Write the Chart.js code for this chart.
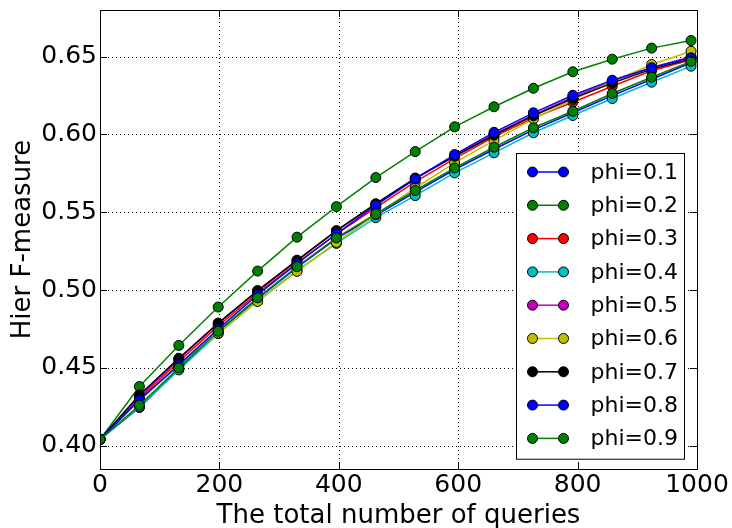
<!DOCTYPE html>
<html><head><meta charset="utf-8">
<script src="https://cdn.jsdelivr.net/npm/chart.js@4/dist/chart.umd.min.js"></script>
<style>html,body{margin:0;padding:0;background:#fff;}</style>
</head><body>
<canvas id="c" width="732" height="528"></canvas>
<script>
// ---- data ----
const xValues = [0, 66, 132, 198, 264, 330, 396, 462, 528, 594, 660, 726, 792, 858, 924, 990];
const phiLabels = ['phi=0.1','phi=0.2','phi=0.3','phi=0.4','phi=0.5','phi=0.6','phi=0.7','phi=0.8','phi=0.9'];
const phi01 = [0.404, 0.4245, 0.4490, 0.4730, 0.4945, 0.5145, 0.5330, 0.5480, 0.5630, 0.5775, 0.5905, 0.6030, 0.6140, 0.6250, 0.6355, 0.6461];
const phi02 = [0.404, 0.4380, 0.4644, 0.4891, 0.5122, 0.5340, 0.5536, 0.5723, 0.5890, 0.6049, 0.6178, 0.6297, 0.6403, 0.6484, 0.6555, 0.6604];
const phi03 = [0.404, 0.4305, 0.4540, 0.4770, 0.4980, 0.5175, 0.5360, 0.5530, 0.5695, 0.5845, 0.5985, 0.6107, 0.6207, 0.6310, 0.6410, 0.6480];
const phi04 = [0.404, 0.4250, 0.4487, 0.4720, 0.4930, 0.5125, 0.5300, 0.5465, 0.5607, 0.5753, 0.5882, 0.6011, 0.6122, 0.6231, 0.6336, 0.6439];
const phi05 = [0.404, 0.4315, 0.4555, 0.4785, 0.4995, 0.5192, 0.5380, 0.5550, 0.5715, 0.5862, 0.6002, 0.6125, 0.6240, 0.6340, 0.6430, 0.6500];
const phi06 = [0.404, 0.4290, 0.4515, 0.4723, 0.4927, 0.5120, 0.5306, 0.5484, 0.5656, 0.5817, 0.5961, 0.6100, 0.6225, 0.6340, 0.6450, 0.6535];
const phi07 = [0.404, 0.4326, 0.4562, 0.4788, 0.4996, 0.5189, 0.5382, 0.5555, 0.5720, 0.5860, 0.5995, 0.6120, 0.6232, 0.6330, 0.6420, 0.6485];
const phi08 = [0.404, 0.4294, 0.4519, 0.4749, 0.4970, 0.5169, 0.5362, 0.5544, 0.5714, 0.5871, 0.6014, 0.6139, 0.6252, 0.6349, 0.6429, 0.6493];
const phi09 = [0.404, 0.4260, 0.4500, 0.4735, 0.4950, 0.5150, 0.5335, 0.5490, 0.5640, 0.5785, 0.5918, 0.6043, 0.6149, 0.6263, 0.6368, 0.6470];
const xTicks = [0, 200, 400, 600, 800, 1000];
const yTicks = [0.40, 0.45, 0.50, 0.55, 0.60, 0.65];
// ---- style ----
const seriesColors = ['#0000ff','#008000','#ff0000','#00bfbf','#bf00bf','#bfbf00','#000000','#0000ff','#008000'];
const FONT = 'DejaVu Sans';
const allSeries = [phi01, phi02, phi03, phi04, phi05, phi06, phi07, phi08, phi09];

const datasets = allSeries.map((vals, i) => ({
  label: phiLabels[i],
  data: xValues.map((x, j) => ({x: x, y: vals[j]})),
  borderColor: seriesColors[i],
  backgroundColor: seriesColors[i],
  pointBackgroundColor: seriesColors[i],
  pointBorderColor: '#000',
  pointBorderWidth: 1,
  pointRadius: 5,
  pointHoverRadius: 5,
  borderWidth: 1.5,
  tension: 0,
  fill: false,
  order: allSeries.length - i
}));

const framePlugin = {
  id: 'frame',
  beforeDatasetsDraw(chart) {
    const {ctx, chartArea: a, scales} = chart;
    ctx.save();
    ctx.strokeStyle = '#000';
    ctx.lineWidth = 1;
    ctx.setLineDash([1, 3]);
    xTicks.forEach(v => {
      const px = Math.round(scales.x.getPixelForValue(v)) + 0.5;
      ctx.beginPath(); ctx.moveTo(px, a.top); ctx.lineTo(px, a.bottom); ctx.stroke();
    });
    yTicks.forEach(v => {
      const py = Math.round(scales.y.getPixelForValue(v)) + 0.5;
      ctx.beginPath(); ctx.moveTo(a.left, py); ctx.lineTo(a.right, py); ctx.stroke();
    });
    ctx.restore();
  },
  afterDatasetsDraw(chart) {
    const {ctx, chartArea: a, scales} = chart;
    ctx.save();
    ctx.strokeStyle = '#000';
    ctx.lineWidth = 1;
    ctx.setLineDash([]);
    const tl = 7;
    xTicks.forEach(v => {
      const px = Math.round(scales.x.getPixelForValue(v)) + 0.5;
      ctx.beginPath(); ctx.moveTo(px, a.bottom); ctx.lineTo(px, a.bottom - tl); ctx.stroke();
      ctx.beginPath(); ctx.moveTo(px, a.top); ctx.lineTo(px, a.top + tl); ctx.stroke();
    });
    yTicks.forEach(v => {
      const py = Math.round(scales.y.getPixelForValue(v)) + 0.5;
      ctx.beginPath(); ctx.moveTo(a.left, py); ctx.lineTo(a.left + tl, py); ctx.stroke();
      ctx.beginPath(); ctx.moveTo(a.right, py); ctx.lineTo(a.right - tl, py); ctx.stroke();
    });
    ctx.strokeRect(Math.round(a.left) + 0.5, Math.round(a.top) + 0.5, Math.round(a.right - a.left), Math.round(a.bottom - a.top));

    // legend
    const bw = 168, rowH = 33.3;
    const bh = rowH * chart.data.datasets.length + 6;
    const bx = Math.round(a.right - 13 - bw) + 0.5;
    const by = Math.round(a.bottom - 10 - bh) + 0.5;
    ctx.fillStyle = '#fff';
    ctx.fillRect(bx, by, bw, bh);
    ctx.strokeRect(bx, by, bw, bh);
    ctx.font = '22px "' + FONT + '"';
    ctx.textBaseline = 'middle';
    ctx.textAlign = 'left';
    chart.data.datasets.forEach((ds, i) => {
      const cy = by + 18.5 + i * rowH;
      const x1 = bx + 16, x2 = bx + 47;
      ctx.strokeStyle = ds.borderColor;
      ctx.lineWidth = 1.5;
      ctx.beginPath(); ctx.moveTo(x1, cy); ctx.lineTo(x2, cy); ctx.stroke();
      [x1, x2].forEach(mx => {
        ctx.beginPath(); ctx.arc(mx, cy, 5, 0, Math.PI * 2);
        ctx.fillStyle = ds.pointBackgroundColor; ctx.fill();
        ctx.strokeStyle = '#000'; ctx.lineWidth = 1; ctx.stroke();
      });
      ctx.fillStyle = '#000';
      ctx.fillText(ds.label, bx + 74, cy + 1);
    });
    ctx.restore();
  }
};

new Chart(document.getElementById('c'), {
  type: 'line',
  data: {datasets: datasets},
  options: {
    responsive: false,
    animation: false,
    devicePixelRatio: 1,
    layout: {padding: {left: 0, right: 35, top: 10, bottom: 0}},
    plugins: {legend: {display: false}, tooltip: {enabled: false}},
    scales: {
      x: {
        type: 'linear', min: 0, max: 1000,
        afterBuildTicks: s => { s.ticks = xTicks.map(v => ({value: v})); },
        afterFit: s => { s.height = 59; s.paddingLeft = 0; s.paddingRight = 0; },
        grid: {display: false, drawTicks: false},
        border: {display: false},
        ticks: {color: '#000', font: {family: FONT, size: 25}, padding: 1, maxRotation: 0, autoSkip: false,
                callback: v => String(v)},
        title: {display: true, text: 'The total number of queries', color: '#000',
                font: {family: FONT, size: 26}, padding: {top: 0, bottom: -4}}
      },
      y: {
        type: 'linear', min: 0.385, max: 0.68,
        afterBuildTicks: s => { s.ticks = yTicks.map(v => ({value: v})); },
        afterFit: s => { s.width = 100; s.paddingTop = 0; s.paddingBottom = 0; },
        grid: {display: false, drawTicks: false},
        border: {display: false},
        ticks: {color: '#000', font: {family: FONT, size: 25}, padding: 3, autoSkip: false,
                callback: v => Number(v).toFixed(2)},
        title: {display: true, text: 'Hier F-measure', color: '#000',
                font: {family: FONT, size: 26}, padding: {top: 8, bottom: 0}}
      }
    }
  },
  plugins: [framePlugin]
});
</script>
</body></html>
